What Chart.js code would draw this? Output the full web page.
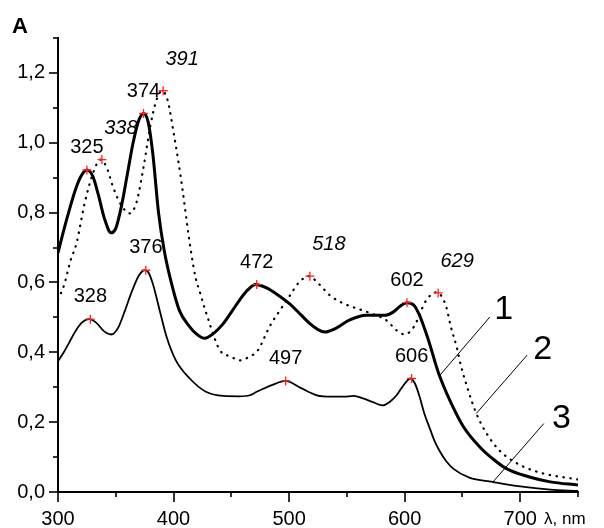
<!DOCTYPE html>
<html>
<head>
<meta charset="utf-8">
<script src="https://cdn.jsdelivr.net/npm/chart.js@4/dist/chart.umd.min.js"></script>
<style>
  html, body { margin: 0; padding: 0; background: #fff; }
  #wrap { width: 604px; height: 528px; }
</style>
</head>
<body>
<div id="wrap"><canvas id="c" width="604" height="528"></canvas></div>
<script>
// ---- Data ----
const xTicksMajor = [300, 400, 500, 600, 700];
const yTickLabels = ['0,0', '0,2', '0,4', '0,6', '0,8', '1,0', '1,2'];
const axisTitleX = 'λ, nm';
const panelLabel = 'A';

// Curve 1 (thick solid)
const wl1 = [300,305,310,315,320,325,330,335,340,346,350,355,360,365,370,374,378,382,387,392,398,405,414,420,427,435,443,450,457,464,471,480,490,500,510,518,525,531,540,552,567,583,590,596,602,608,613,618,622,626,630,639,651,665,677,688,708,726,750];
const abs1 = [0.685,0.75,0.81,0.865,0.905,0.922,0.905,0.85,0.785,0.742,0.755,0.82,0.91,1.0,1.065,1.084,1.06,0.97,0.80,0.69,0.60,0.52,0.473,0.452,0.44,0.455,0.482,0.515,0.549,0.578,0.594,0.585,0.565,0.54,0.508,0.482,0.465,0.458,0.468,0.492,0.506,0.506,0.515,0.532,0.542,0.535,0.505,0.46,0.42,0.375,0.334,0.263,0.186,0.129,0.093,0.067,0.043,0.029,0.02];

// Curve 2 (dotted)
const wl2 = [300,305,311,316,323,330,337,342,348,355,362,368,374,380,385,390,395,400,404,408,412,415.5,419,423,427,430,435,440,450,457,466,473,483,491,500,508,517,526,535,547,567,584,593,599,605,611,617,623,628,632,636,640,645,649,655,662,671,682,700,720,750];
const abs2 = [0.551,0.59,0.664,0.712,0.826,0.91,0.952,0.93,0.87,0.82,0.798,0.83,0.93,1.05,1.12,1.149,1.12,1.03,0.95,0.86,0.76,0.68,0.615,0.57,0.525,0.495,0.445,0.406,0.387,0.377,0.388,0.406,0.473,0.515,0.559,0.598,0.618,0.595,0.564,0.54,0.516,0.492,0.463,0.452,0.46,0.492,0.54,0.565,0.572,0.56,0.53,0.473,0.415,0.358,0.291,0.225,0.167,0.119,0.077,0.053,0.036];

// Curve 3 (thin solid)
const wl3 = [300,305,310,315,320,327,333,340,346,352,358,364,370,375,378,382,388,394,402,414,428,443,457,466,472,485,497,510,524,537,547,556,564,572,581,587,593,600,605,609,613,617,622,626,630,636,642,656,676,700,726,750];
const abs3 = [0.375,0.4,0.43,0.46,0.483,0.495,0.485,0.46,0.451,0.47,0.52,0.575,0.62,0.635,0.63,0.597,0.52,0.444,0.377,0.325,0.287,0.275,0.274,0.277,0.287,0.306,0.318,0.298,0.277,0.273,0.273,0.275,0.268,0.258,0.248,0.258,0.277,0.31,0.325,0.31,0.272,0.225,0.18,0.145,0.119,0.088,0.067,0.041,0.029,0.016,0.007,0.003];

// Peak maxima marked with red crosses
const peaks1X = [325, 374, 472, 602];
const peaks1Y = [0.922, 1.084, 0.594, 0.542];
const peaks2X = [338, 391, 518, 629];
const peaks2Y = [0.952, 1.149, 0.618, 0.57];
const peaks3X = [328, 376, 497, 606];
const peaks3Y = [0.495, 0.635, 0.318, 0.325];

// Curve numbers and their leader lines (from point on curve to label)
const curveNames = ['1', '2', '3'];
const leaderFromX = [630.4, 662, 676.5];
const leaderFromY = [0.334, 0.225, 0.029];
const leaderToX = [673.7, 706, 720.4];
const leaderToY = [0.501, 0.392, 0.196];
const nameAtX = [685.8, 719.5, 735.7];
const nameAtY = [0.529, 0.415, 0.218];

// ---- Style (kept apart from data) ----
const FONT = '"Liberation Sans", Arial, Helvetica, sans-serif';
const labelStyle = [
  { dx: 0, dy: -24, italic: false },
  { dx: 19, dy: -33, italic: true },
  { dx: 0, dy: -24, italic: false }
];

function pts(xs, ys) { return xs.map((x, i) => ({ x: x, y: ys[i] })); }

const peakSets = [[peaks1X, peaks1Y], [peaks2X, peaks2Y], [peaks3X, peaks3Y]];

const annot = {
  id: 'annot',
  afterDatasetsDraw(chart) {
    const ctx = chart.ctx;
    const xs = chart.scales.x, ys = chart.scales.y;
    ctx.save();
    ctx.fillStyle = '#000';
    ctx.textAlign = 'center';
    ctx.textBaseline = 'alphabetic';
    peakSets.forEach((ps, si) => {
      const st = labelStyle[si];
      ctx.font = (st.italic ? 'italic ' : '') + '20px ' + FONT;
      ps[0].forEach((lx, i) => {
        const px = xs.getPixelForValue(lx) + st.dx;
        const py = ys.getPixelForValue(ps[1][i]) + st.dy;
        ctx.fillText(String(lx), px, py + 7.2);
      });
    });
    ctx.strokeStyle = '#000';
    ctx.lineWidth = 1;
    for (let i = 0; i < curveNames.length; i++) {
      ctx.beginPath();
      ctx.moveTo(xs.getPixelForValue(leaderFromX[i]), ys.getPixelForValue(leaderFromY[i]));
      ctx.lineTo(xs.getPixelForValue(leaderToX[i]), ys.getPixelForValue(leaderToY[i]));
      ctx.stroke();
      ctx.font = '34px ' + FONT;
      ctx.fillText(curveNames[i], xs.getPixelForValue(nameAtX[i]), ys.getPixelForValue(nameAtY[i]) + 12.2);
    }
    ctx.restore();
  },
  afterDraw(chart) {
    const ctx = chart.ctx;
    const xs = chart.scales.x, ys = chart.scales.y;
    const area = chart.chartArea;
    ctx.save();
    ctx.strokeStyle = '#000';
    ctx.lineWidth = 1.6;
    for (let v = 300; v <= 750; v += 50) {
      const px = Math.round(xs.getPixelForValue(v));
      const len = (v % 100 === 0) ? 10 : 5;
      ctx.beginPath();
      ctx.moveTo(px, area.bottom);
      ctx.lineTo(px, area.bottom + len);
      ctx.stroke();
    }
    for (let k = 0; k <= 13; k++) {
      const py = Math.round(ys.getPixelForValue(k / 10));
      const len = (k % 2 === 0) ? 9 : 5;
      ctx.beginPath();
      ctx.moveTo(area.left, py);
      ctx.lineTo(area.left - len, py);
      ctx.stroke();
    }
    ctx.fillStyle = '#000';
    ctx.font = 'bold 22px ' + FONT;
    ctx.textAlign = 'left';
    ctx.textBaseline = 'alphabetic';
    ctx.fillText(panelLabel, 12, 33);
    ctx.font = '17px ' + FONT;
    ctx.fillText(axisTitleX, 544, 524);
    ctx.restore();
  }
};

new Chart(document.getElementById('c'), {
  type: 'line',
  data: {
    datasets: [
      { type: 'scatter', data: pts(peaks1X, peaks1Y), pointStyle: 'cross', pointRadius: 4.5, borderColor: '#ff2020', pointBorderWidth: 1.3, order: 0, showLine: false },
      { type: 'scatter', data: pts(peaks2X, peaks2Y), pointStyle: 'cross', pointRadius: 4.5, borderColor: '#ff2020', pointBorderWidth: 1.3, order: 0, showLine: false },
      { type: 'scatter', data: pts(peaks3X, peaks3Y), pointStyle: 'cross', pointRadius: 4.5, borderColor: '#ff2020', pointBorderWidth: 1.3, order: 0, showLine: false },
      { data: pts(wl1, abs1), borderColor: '#000', borderWidth: 3, pointRadius: 0, cubicInterpolationMode: 'monotone', fill: false, order: 1 },
      { data: pts(wl2, abs2), borderColor: '#000', borderWidth: 2.2, borderDash: [0.5, 6.5], borderCapStyle: 'round', pointRadius: 0, cubicInterpolationMode: 'monotone', fill: false, order: 1 },
      { data: pts(wl3, abs3), borderColor: '#000', borderWidth: 1.8, pointRadius: 0, cubicInterpolationMode: 'monotone', fill: false, order: 1 }
    ]
  },
  options: {
    responsive: false,
    animation: false,
    devicePixelRatio: 1,
    layout: { padding: { top: 38, right: 26, left: 0, bottom: 0 } },
    plugins: { legend: { display: false }, tooltip: { enabled: false } },
    scales: {
      x: {
        type: 'linear', min: 300, max: 750,
        grid: { display: false, drawTicks: false },
        border: { display: true, color: '#000', width: 2 },
        ticks: {
          stepSize: 50, autoSkip: false, maxRotation: 0, padding: 15,
          color: '#000', font: { family: FONT, size: 20 },
          callback: (v) => xTicksMajor.includes(v) ? String(v) : ''
        },
        afterFit: (s) => { s.height = 36; }
      },
      y: {
        type: 'linear', min: 0, max: 1.3,
        grid: { display: false, drawTicks: false },
        border: { display: true, color: '#000', width: 2 },
        ticks: {
          stepSize: 0.1, autoSkip: false, padding: 13,
          color: '#000', font: { family: FONT, size: 20 },
          callback: (v) => {
            const k = Math.round(v * 10);
            return (k % 2 === 0) ? yTickLabels[k / 2] : '';
          }
        },
        afterFit: (s) => { s.width = 58; }
      }
    }
  },
  plugins: [annot]
});
</script>
</body>
</html>
